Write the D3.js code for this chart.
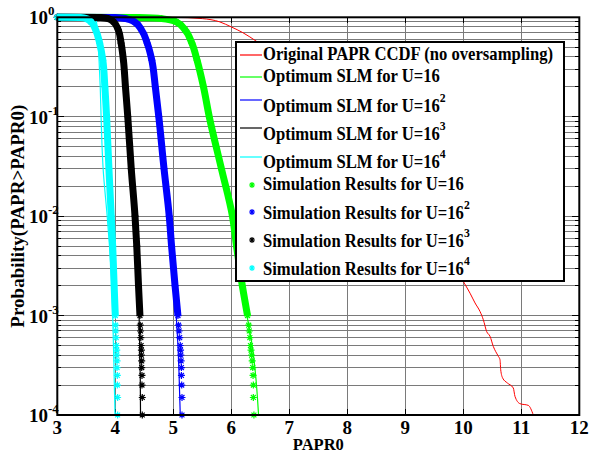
<!DOCTYPE html>
<html lang="en">
<head>
<meta charset="UTF-8">
<title>PAPR CCDF</title>
<script src="https://cdn.jsdelivr.net/npm/d3@7"></script>
<style>
  body { margin: 0; background: #fff; }
  svg text { font-family: "Liberation Serif", "Times New Roman", serif; font-weight: bold; fill: #000; }
</style>
</head>
<body>
<svg width="591" height="457"></svg>
<script>
// axis ticks
var paprTicks = [3, 4, 5, 6, 7, 8, 9, 10, 11, 12];
var probTicks = [1e-4, 1e-3, 1e-2, 1e-1, 1];
var probExp = ["-4", "-3", "-2", "-1", "0"];

// original PAPR CCDF (red)
var origPapr = [3, 5, 5.5, 5.8, 6.0, 6.2, 6.44, 6.8, 7.5, 8, 8.5, 9, 9.5,
  10.017, 10.116, 10.202, 10.288, 10.345, 10.403, 10.46, 10.517, 10.603, 10.633,
  10.645, 10.679, 10.759, 10.862, 10.891, 10.977, 11.121, 11.207];
var origProb = [1, 0.999, 0.97, 0.9, 0.8, 0.7, 0.57, 0.4, 0.18, 0.1, 0.045, 0.02, 0.007,
  2.12e-3, 1.68e-3, 1.34e-3, 1.1e-3, 9.1e-4, 6.9e-4, 6.2e-4, 4.9e-4, 3.9e-4, 3.6e-4,
  2.85e-4, 2.35e-4, 2.1e-4, 1.87e-4, 1.54e-4, 1.3e-4, 1.25e-4, 1.0e-4];

// optimum SLM (analytical) lines
var lineProb = [1, 0.995, 0.97, 0.9, 0.75, 0.55, 0.37, 0.2, 0.1, 0.03, 1e-2, 5e-3, 2e-3, 1e-3, 5e-4, 2.5e-4, 1e-4];
var lineU1 = [3.0, 4.4, 4.8, 5.05, 5.2, 5.32, 5.41, 5.52, 5.62, 5.83, 6.0, 6.08, 6.18, 6.27, 6.36, 6.42, 6.47];
var lineU2 = [3.0, 4.0, 4.18, 4.33, 4.45, 4.55, 4.63, 4.69, 4.75, 4.84, 4.92, 4.96, 5.01, 5.05, 5.08, 5.1, 5.12];
var lineU3 = [3.0, 3.75, 3.88, 3.97, 4.05, 4.1, 4.14, 4.175, 4.21, 4.27, 4.33, 4.36, 4.39, 4.41, 4.42, 4.43, 4.435];
var lineU4 = [3.0, 3.5, 3.66, 3.675, 3.69, 3.705, 3.72, 3.74, 3.755, 3.79, 3.86, 3.9, 3.94, 3.955, 3.968, 3.98, 3.995];

// simulation results
var simProb = [1, 0.995, 0.97, 0.9, 0.75, 0.55, 0.37, 0.2, 0.1, 0.03, 1e-2, 5e-3, 2e-3, 1e-3,
  8e-4, 7e-4, 6e-4, 5e-4, 4.5e-4, 4e-4, 3.5e-4, 3e-4, 2.5e-4, 2e-4, 1.5e-4, 1e-4];
var simU1 = [3.0, 4.4, 4.8, 5.05, 5.2, 5.32, 5.41, 5.52, 5.62, 5.83, 6.02, 6.09, 6.19, 6.28,
  6.3, 6.31, 6.32, 6.33, 6.34, 6.35, 6.36, 6.37, 6.375, 6.38, 6.38, 6.39];
var simU2 = [3.0, 4.0, 4.18, 4.33, 4.45, 4.55, 4.63, 4.69, 4.75, 4.84, 4.93, 4.97, 5.03, 5.08,
  5.09, 5.1, 5.11, 5.12, 5.125, 5.13, 5.135, 5.14, 5.14, 5.145, 5.15, 5.15];
var simU3 = [3.0, 3.75, 3.88, 3.97, 4.05, 4.1, 4.14, 4.175, 4.215, 4.275, 4.34, 4.37, 4.4, 4.425,
  4.43, 4.435, 4.44, 4.445, 4.45, 4.45, 4.455, 4.455, 4.46, 4.46, 4.465, 4.465];
var simU4 = [3.0, 3.4, 3.5, 3.58, 3.66, 3.73, 3.785, 3.82, 3.85, 3.89, 3.93, 3.955, 3.98, 4.0,
  4.005, 4.01, 4.015, 4.02, 4.025, 4.025, 4.03, 4.03, 4.035, 4.035, 4.04, 4.04];

var svg = d3.select("svg");
var plotL = 57.3, plotR = 579.3, plotT = 17.3, plotB = 415;

var x = d3.scaleLinear().domain([3, 12]).range([plotL, plotR]);
var y = d3.scaleLog().domain([1e-4, 1]).range([plotB, plotT]);

// grid
var grid = svg.append("g").attr("shape-rendering", "crispEdges");
grid.selectAll(".vg").data(paprTicks.slice(1, -1)).enter().append("line")
  .attr("x1", function(d) { return x(d); }).attr("x2", function(d) { return x(d); })
  .attr("y1", plotT).attr("y2", plotB)
  .attr("stroke", "#7a7a7a").attr("stroke-width", 1);
grid.selectAll(".hg").data(y.ticks()).enter().append("line")
  .attr("x1", plotL).attr("x2", plotR)
  .attr("y1", function(d) { return y(d); }).attr("y2", function(d) { return y(d); })
  .attr("stroke", "#7a7a7a").attr("stroke-width", 1);

// small inward ticks on all sides
var ticks = svg.append("g").attr("stroke", "#000").attr("shape-rendering", "crispEdges");
y.ticks().forEach(function(d) {
  var len = probTicks.indexOf(d) >= 0 ? 7 : 4;
  ticks.append("line").attr("x1", plotL).attr("x2", plotL + len).attr("y1", y(d)).attr("y2", y(d));
  ticks.append("line").attr("x1", plotR).attr("x2", plotR - len).attr("y1", y(d)).attr("y2", y(d));
});
paprTicks.forEach(function(d) {
  ticks.append("line").attr("x1", x(d)).attr("x2", x(d)).attr("y1", plotB).attr("y2", plotB - 6);
  ticks.append("line").attr("x1", x(d)).attr("x2", x(d)).attr("y1", plotT).attr("y2", plotT + 6);
});

function pts(xs, ps) {
  return xs.map(function(v, i) { return [v, ps[i]]; });
}

var lineY = d3.line()
  .x(function(d) { return x(d[0]); })
  .y(function(d) { return y(d[1]); })
  .curve(d3.curveMonotoneY);
var lineX = d3.line()
  .x(function(d) { return x(d[0]); })
  .y(function(d) { return y(d[1]); })
  .curve(d3.curveMonotoneX);

var curves = [
  { xs: lineU1, sim: simU1, color: "#00ff00" },
  { xs: lineU2, sim: simU2, color: "#0000ff" },
  { xs: lineU3, sim: simU3, color: "#000000" },
  { xs: lineU4, sim: simU4, color: "#00ffff" }
];

// red original curve
svg.append("path").attr("d", lineX(pts(origPapr, origProb)))
  .attr("fill", "none").attr("stroke", "#ff0000").attr("stroke-width", 1);

// thin analytical lines
curves.forEach(function(c) {
  svg.append("path").attr("d", lineY(pts(c.xs, lineProb)))
    .attr("fill", "none").attr("stroke", c.color).attr("stroke-width", 1.2);
});

// asterisk marker
function star(cx, cy, r) {
  var p = d3.path();
  var a = r * 0.7;
  p.moveTo(cx - r, cy); p.lineTo(cx + r, cy);
  p.moveTo(cx, cy - r); p.lineTo(cx, cy + r);
  p.moveTo(cx - a, cy - a); p.lineTo(cx + a, cy + a);
  p.moveTo(cx - a, cy + a); p.lineTo(cx + a, cy - a);
  return p.toString();
}

// simulation markers: dense region rendered as a thick band of markers
curves.forEach(function(c) {
  var data = pts(c.sim, simProb);
  var dense = data.filter(function(d) { return d[1] >= 1e-3; });
  svg.append("path").attr("d", lineY(dense))
    .attr("fill", "none").attr("stroke", c.color).attr("stroke-width", 7)
    .attr("stroke-linejoin", "round");
  svg.append("g").selectAll("path").data(data).enter().append("path")
    .attr("d", function(d) { return star(x(d[0]), y(d[1]), 3.5); })
    .attr("stroke", c.color).attr("stroke-width", 1.2).attr("fill", "none");
});

// axes box
svg.append("rect").attr("x", plotL).attr("y", plotT)
  .attr("width", plotR - plotL).attr("height", plotB - plotT)
  .attr("fill", "none").attr("stroke", "#000").attr("stroke-width", 2);

// x tick labels
svg.append("g").selectAll("text").data(paprTicks).enter().append("text")
  .attr("x", function(d) { return x(d); }).attr("y", 434)
  .attr("text-anchor", "middle").style("font-size", "19px")
  .text(function(d) { return d; });

// y tick labels 10^n
var yl = svg.append("g");
probTicks.forEach(function(d, i) {
  yl.append("text").attr("x", 48).attr("y", y(d) + 7)
    .attr("text-anchor", "end").style("font-size", "19px").text("10");
  yl.append("text").attr("x", 48).attr("y", y(d) - 2)
    .attr("text-anchor", "start").style("font-size", "13px").text(probExp[i]);
});

// axis titles
svg.append("text").attr("x", (plotL + plotR) / 2).attr("y", 450)
  .attr("text-anchor", "middle").style("font-size", "16.5px").text("PAPR0");
svg.append("text").attr("transform", "translate(24," + (plotT + plotB) / 2 + ") rotate(-90)")
  .attr("text-anchor", "middle").style("font-size", "19px").text("Probability(PAPR>PAPR0)");

// legend
var lg = svg.append("g");
lg.append("rect").attr("x", 236).attr("y", 42).attr("width", 328).attr("height", 239)
  .attr("fill", "#fff").attr("stroke", "#000").attr("stroke-width", 2);

var legendRows = [
  { label: "Original PAPR CCDF (no oversampling)", sup: "", color: "#ff0000", kind: "line", ty: 60, my: 55 },
  { label: "Optimum SLM for U=16", sup: "", color: "#00ff00", kind: "line", ty: 82, my: 77 },
  { label: "Optimum SLM for U=16", sup: "2", color: "#0000ff", kind: "line", ty: 112, my: 100 },
  { label: "Optimum SLM for U=16", sup: "3", color: "#000000", kind: "line", ty: 140, my: 128 },
  { label: "Optimum SLM for U=16", sup: "4", color: "#00ffff", kind: "line", ty: 168, my: 157 },
  { label: "Simulation Results for U=16", sup: "", color: "#00ff00", kind: "mark", ty: 190, my: 185 },
  { label: "Simulation Results for U=16", sup: "2", color: "#0000ff", kind: "mark", ty: 219, my: 212 },
  { label: "Simulation Results for U=16", sup: "3", color: "#000000", kind: "mark", ty: 247, my: 240 },
  { label: "Simulation Results for U=16", sup: "4", color: "#00ffff", kind: "mark", ty: 275, my: 268 }
];

legendRows.forEach(function(r) {
  if (r.kind === "line") {
    lg.append("line").attr("x1", 240).attr("x2", 262).attr("y1", r.my).attr("y2", r.my)
      .attr("stroke", r.color).attr("stroke-width", 1.2);
  } else {
    lg.append("path").attr("d", star(252, r.my, 3))
      .attr("stroke", r.color).attr("stroke-width", 1.2).attr("fill", "none");
  }
  var t = lg.append("text")
    .attr("transform", "translate(263," + r.ty + ") scale(0.9,1)")
    .style("font-size", "18.5px").text(r.label);
  if (r.sup) {
    t.append("tspan").attr("dy", -10).style("font-size", "13px").text(r.sup);
  }
});
</script>
</body>
</html>
